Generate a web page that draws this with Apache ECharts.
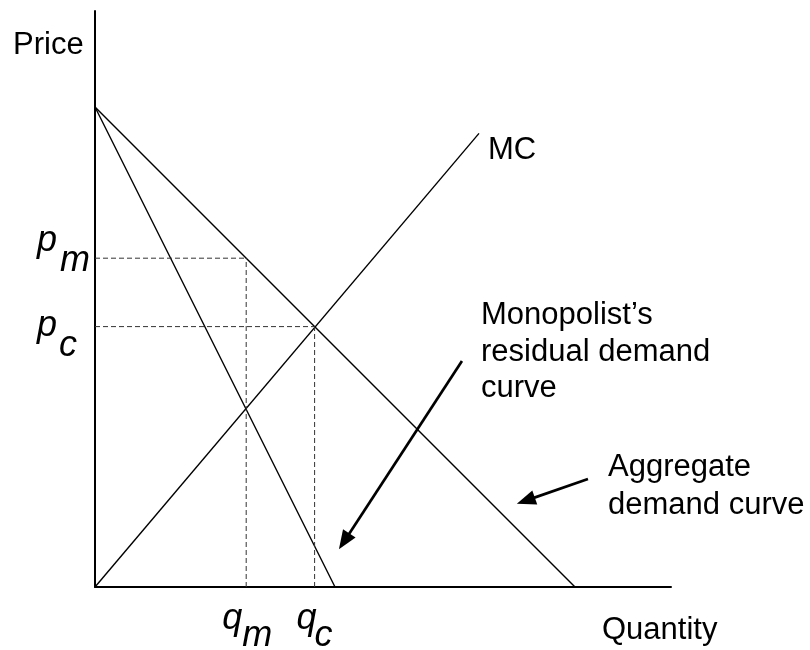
<!DOCTYPE html>
<html>
<head>
<meta charset="utf-8">
<script src="https://cdn.jsdelivr.net/npm/echarts@6/dist/echarts.min.js"></script>
<style>
  html, body { margin: 0; background: #fff; }
  #chart { width: 810px; height: 650px; }
</style>
</head>
<body>
<div id="chart"></div>
<script>
// curves (quantity, price)
const aggregateDemand = [[0, 20], [20, 0]]
const residualDemand = [[0, 20], [10, 0]]
const marginalCost = [[0, 0], [16, 18.9]]
// equilibrium values
const qm = 6.3
const qc = 9.15
const pm = 13.7
const pc = 10.85
// annotation arrows: [from, to]
const residualArrow = [[15.29, 9.42], [10.38, 1.9]]
const aggregateArrow = [[20.54, 4.5], [17.95, 3.6]]

const FONT = '"Liberation Sans", Arial, sans-serif'
const chart = echarts.init(document.getElementById('chart'))

const solid = (name, data) => ({
  name,
  type: 'line',
  data,
  symbol: 'none',
  silent: true,
  lineStyle: { color: '#000', width: 1.4 }
})
const dashed = (data) => ({
  type: 'line',
  data,
  symbol: 'none',
  silent: true,
  lineStyle: { color: '#333', width: 1, type: [5, 3] }
})
const arrow = (pts) => [{ coord: pts[0] }, { coord: pts[1] }]

const axis = {
  type: 'value',
  min: 0,
  max: 24,
  axisLine: { show: true, onZero: false, lineStyle: { color: '#000', width: 2 } },
  axisTick: { show: false },
  axisLabel: { show: false },
  splitLine: { show: false }
}

chart.setOption({
  animation: false,
  grid: { left: 95, right: 139, top: 11, bottom: 63 },
  xAxis: axis,
  yAxis: axis,
  series: [
    solid('Aggregate demand', aggregateDemand),
    solid('Residual demand', residualDemand),
    Object.assign(solid('MC', marginalCost), {
      markLine: {
        silent: true,
        symbol: ['none', 'triangle'],
        symbolSize: [15, 19],
        label: { show: false },
        lineStyle: { color: '#000', width: 2.7, type: 'solid' },
        data: [arrow(residualArrow), arrow(aggregateArrow)]
      }
    }),
    dashed([[0, pm], [qm, pm]]),
    dashed([[qm, 0], [qm, pm]]),
    dashed([[0, pc], [qc, pc]]),
    dashed([[qc, 0], [qc, pc]])
  ]
})

const px = (q, p) => chart.convertToPixel({ gridIndex: 0 }, [q, p])
const txt = (text, x, y, size, italic) => ({
  type: 'text',
  silent: true,
  style: {
    text,
    x,
    y,
    font: (italic ? 'italic ' : '') + size + 'px ' + FONT,
    fill: '#000',
    textAlign: 'left',
    align: 'left',
    textVerticalAlign: 'middle',
    verticalAlign: 'middle'
  }
})

const o = px(0, 0)
const pmY = px(0, pm)[1]
const pcY = px(0, pc)[1]
const qmX = px(qm, 0)[0]
const qcX = px(qc, 0)[0]
const mcEnd = px(marginalCost[1][0], marginalCost[1][1])

chart.setOption({
  graphic: [
    txt('Price', o[0] - 82, 45, 31),
    txt('Quantity', 602, o[1] + 43, 31),
    txt('MC', mcEnd[0] + 9, mcEnd[1] + 17, 31),
    txt('Monopolist\u2019s', 481, 315, 31),
    txt('residual demand', 481, 352, 31),
    txt('curve', 481, 388, 31),
    txt('Aggregate', 608, 467, 31),
    txt('demand curve', 608, 505, 31),
    txt('p', o[0] - 58, pmY - 17, 36, true),
    txt('m', o[0] - 35, pmY + 3, 36, true),
    txt('p', o[0] - 58, pcY - 1, 36, true),
    txt('c', o[0] - 36, pcY + 19, 36, true),
    txt('q', qmX - 24, o[1] + 32, 36, true),
    txt('m', qmX - 4, o[1] + 49, 36, true),
    txt('q', qcX - 18, o[1] + 32, 36, true),
    txt('c', qcX, o[1] + 49, 36, true)
  ]
})
</script>
</body>
</html>
